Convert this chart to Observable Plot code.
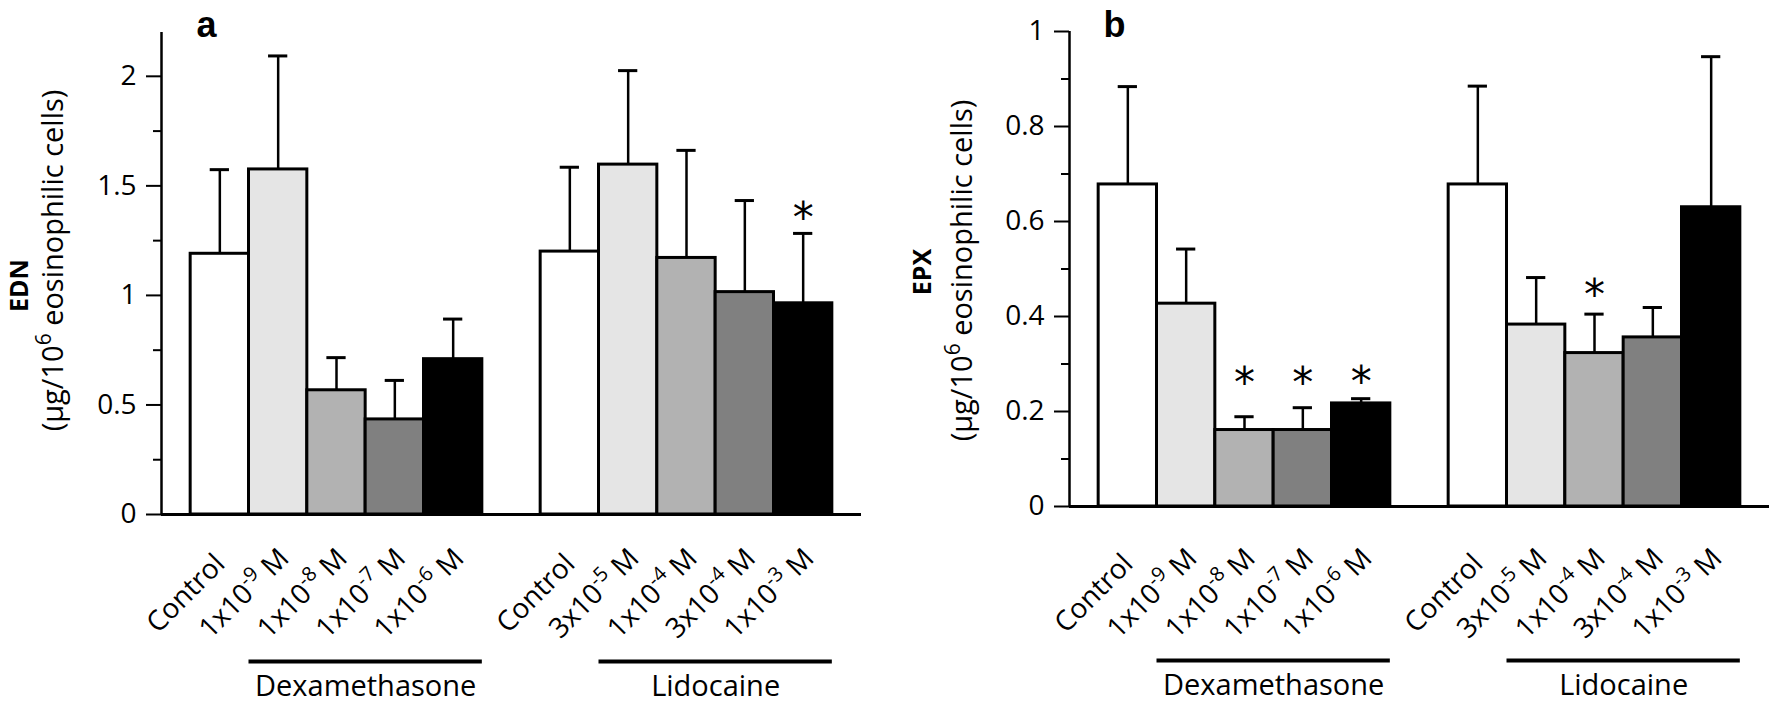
<!DOCTYPE html>
<html>
<head>
<meta charset="utf-8">
<script src="https://cdn.jsdelivr.net/npm/d3@7"></script>
<script src="https://cdn.jsdelivr.net/npm/@observablehq/plot@0.6"></script>
<style>
  html, body { margin: 0; padding: 0; background: #fff; }
  #wrap { display: flex; width: 1769px; height: 707px; }
  #wrap svg { display: block; }
</style>
</head>
<body>
<div id="wrap"></div>
<script>
// ---------- data ----------
const dexLabels = ["Control", "1x10^-9 M", "1x10^-8 M", "1x10^-7 M", "1x10^-6 M"];
const lidLabels = ["Control", "3x10^-5 M", "1x10^-4 M", "3x10^-4 M", "1x10^-3 M"];
const groupNames = ["Dexamethasone", "Lidocaine"];

const ednDexMean = [1.19, 1.575, 0.567, 0.434, 0.709];
const ednDexSD   = [0.384, 0.518, 0.149, 0.178, 0.183];
const ednLidMean = [1.20, 1.597, 1.171, 1.015, 0.964];
const ednLidSD   = [0.385, 0.429, 0.491, 0.418, 0.319];

const epxDexMean = [0.678, 0.427, 0.161, 0.161, 0.217];
const epxDexSD   = [0.206, 0.115, 0.028, 0.047, 0.010];
const epxLidMean = [0.678, 0.383, 0.323, 0.356, 0.630];
const epxLidSD   = [0.207, 0.099, 0.082, 0.063, 0.317];

// height (data units) at which the significance asterisk sits; null = none
const ednDexStar = [null, null, null, null, null];
const ednLidStar = [null, null, null, null, 1.395];
const epxDexStar = [null, null, 0.28, 0.28, 0.282];
const epxLidStar = [null, null, 0.465, null, null];

const ednTicks = [0, 0.5, 1, 1.5, 2];
const ednMinor = [0.25, 0.75, 1.25, 1.75];
const epxTicks = [0, 0.2, 0.4, 0.6, 0.8, 1];
const epxMinor = [0.1, 0.3, 0.5, 0.7, 0.9];

const shades = ["#ffffff", "#e5e5e5", "#b2b2b2", "#808080", "#000000"];

// ---------- helpers ----------
// turn "10^-9" into a real superscript tspan
function supify(svg) {
  const NS = "http://www.w3.org/2000/svg";
  svg.querySelectorAll("text").forEach(t => {
    const s = t.textContent;
    const m = s.match(/^(.*?)\^(-?\d+)(.*)$/);
    if (!m) return;
    t.textContent = "";
    const a = document.createElementNS(NS, "tspan"); a.textContent = m[1]; t.appendChild(a);
    const b = document.createElementNS(NS, "tspan");
    b.setAttribute("font-size", "72%"); b.setAttribute("dy", "-0.55em"); b.textContent = m[2]; t.appendChild(b);
    if (m[3]) {
      const c = document.createElementNS(NS, "tspan");
      c.setAttribute("dy", "0.396em"); c.textContent = m[3]; t.appendChild(c);
    }
  });
}

function panel(o) {
  const rows = [];
  [[dexLabels, o.means[0], o.sds[0], o.stars[0]], [lidLabels, o.means[1], o.sds[1], o.stars[1]]]
    .forEach(([labels, m, s, st], g) => labels.forEach((label, j) => rows.push({
      i: g * 6 + j, shade: j, label, mean: m[j], upper: m[j] + s[j], star: st[j]
    })));
  const groups = groupNames.map((name, g) => ({name, x1: g * 6 + 0.5, x2: g * 6 + 4.5, xc: g * 6 + 2.5}));
  const capHalf = 0.165;

  const chart = Plot.plot({
    width: o.width, height: 707,
    marginLeft: o.marginLeft, marginRight: o.marginRight,
    marginTop: o.marginTop, marginBottom: o.marginBottom,
    style: {fontFamily: "'Open Sans', sans-serif", fontSize: "28px", color: "#000", background: "#fff", overflow: "visible"},
    x: {domain: [-1, 11], axis: null},
    y: {domain: [0, o.yMax], axis: null},
    color: {type: "ordinal", domain: [0, 1, 2, 3, 4], range: shades},
    marks: [
      Plot.rectY(rows, {x1: d => d.i - 0.5, x2: d => d.i + 0.5, y1: () => 0, y2: "mean", fill: "shade", stroke: "#000", strokeWidth: 3}),
      Plot.ruleX(rows, {x: "i", y1: "mean", y2: "upper", stroke: "#000", strokeWidth: 2.5}),
      Plot.ruleY(rows, {x1: d => d.i - capHalf, x2: d => d.i + capHalf, y: "upper", stroke: "#000", strokeWidth: 3}),
      Plot.ruleY([0], {stroke: "#000", strokeWidth: 3}),
      Plot.ruleX([-1], {stroke: "#000", strokeWidth: 2.5}),
      Plot.axisY(o.ticks, {tickSize: 15, tickPadding: 10, strokeWidth: 2, tickFormat: d => String(d), label: null, fontSize: 28}),
      Plot.axisY(o.minor, {tickSize: 8, strokeWidth: 2, tickFormat: () => "", label: null}),
      Plot.text(rows.filter(d => d.star != null), {x: "i", y: "star", text: () => "*", fontFamily: "DejaVu Sans", fontSize: 42, lineAnchor: "middle", dy: 10}),
      Plot.text(rows, {x: "i", text: "label", frameAnchor: "bottom", rotate: -45, textAnchor: "middle", lineAnchor: "middle", dx: -34, dy: o.labelDy, fontSize: 28}),
      Plot.ruleY(groups, {x1: "x1", x2: "x2", y: () => 0, dy: o.underlineDy, stroke: "#000", strokeWidth: 4}),
      Plot.text(groups, {x: "xc", text: "name", frameAnchor: "bottom", lineAnchor: "bottom", dy: o.groupDy, fontSize: 29}),
      Plot.text([o.measure], {text: d => d, frameAnchor: "left", rotate: -90, textAnchor: "middle", lineAnchor: "middle", fontWeight: "bold", fontSize: 25, dx: o.titleDx[0], dy: o.titleDy[0]}),
      Plot.text([o.unit], {text: d => d, frameAnchor: "left", rotate: -90, textAnchor: "middle", lineAnchor: "middle", fontSize: 29, dx: o.titleDx[1], dy: o.titleDy[1]}),
      Plot.text([o.letter], {text: d => d, frameAnchor: "top-left", textAnchor: "middle", lineAnchor: "bottom", fontFamily: "Liberation Sans, Arial, sans-serif", fontWeight: "bold", fontSize: 36, dx: o.letterDx, dy: o.letterDy})
    ]
  });
  supify(chart);
  return chart;
}

const wrap = document.getElementById("wrap");
wrap.appendChild(panel({
  letter: "a", measure: "EDN", unit: "(\u00b5g/10^6 eosinophilic cells)",
  means: [ednDexMean, ednLidMean], sds: [ednDexSD, ednLidSD], stars: [ednDexStar, ednLidStar],
  ticks: ednTicks, minor: ednMinor, yMax: 2.2,
  width: 880, marginLeft: 161, marginRight: 19, marginTop: 32, marginBottom: 193,
  labelDy: 79, underlineDy: 147, groupDy: 181,
  titleDx: [-142, -108], titleDy: [12, -13], letterDx: 45, letterDy: 4
}));
wrap.appendChild(panel({
  letter: "b", measure: "EPX", unit: "(\u00b5g/10^6 eosinophilic cells)",
  means: [epxDexMean, epxLidMean], sds: [epxDexSD, epxLidSD], stars: [epxDexStar, epxLidStar],
  ticks: epxTicks, minor: epxMinor, yMax: 1,
  width: 889, marginLeft: 189, marginRight: 0, marginTop: 31, marginBottom: 201,
  labelDy: 87, underlineDy: 154, groupDy: 188,
  titleDx: [-147, -107], titleDy: [3, 1.5], letterDx: 45, letterDy: 5
}));
</script>
</body>
</html>
